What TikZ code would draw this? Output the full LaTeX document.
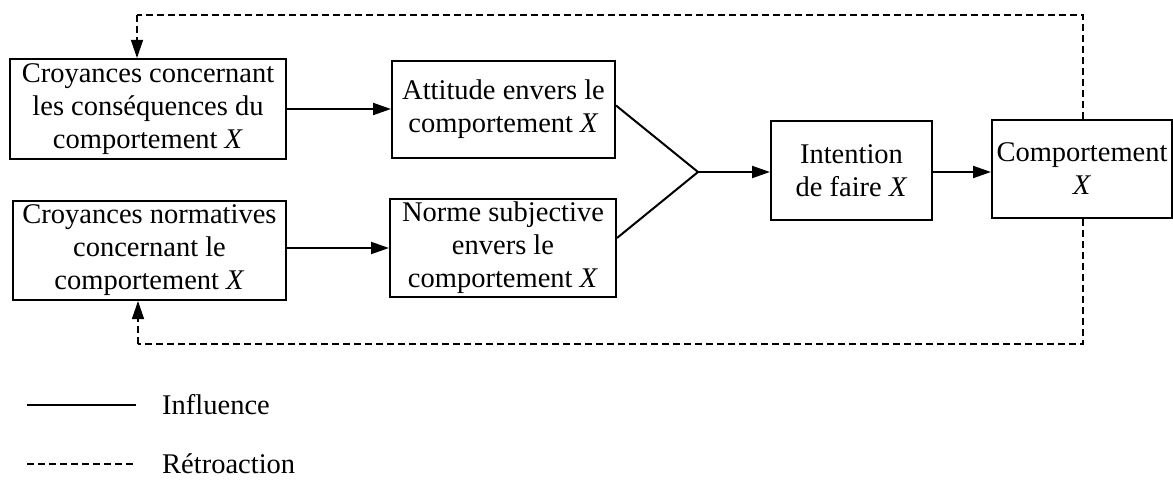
\documentclass[tikz,border=0pt]{standalone}
\usepackage{fontspec}
\setmainfont{Liberation Serif}
\usetikzlibrary{arrows.meta,calc}

\begin{document}
\begin{tikzpicture}[x=1pt,y=-1pt,
  box/.style={draw, line width=2pt, align=center, inner sep=0pt,
    font=\fontsize{28.5}{33}\selectfont},
  infl/.style={line width=2pt},
  fb/.style={line width=1.4pt, dash pattern=on 7pt off 4pt},
  tip/.style={-{Triangle[length=18pt,width=12pt]}},
  legtext/.style={anchor=west, inner sep=0pt, font=\fontsize{28.5}{33}\selectfont}
]
\useasboundingbox (0,0) rectangle (1173,487);

% belief boxes (left column)
\node[box, minimum width=276pt, minimum height=100pt] (cons) at (148,109)
  {Croyances concernant\\les conséquences du\\comportement \textit{X}};
\node[box, minimum width=273pt, minimum height=99pt] (norm) at (149.5,250.5)
  {Croyances normatives\\concernant le\\comportement \textit{X}};

% attitude and subjective norm
\node[box, minimum width=223pt, minimum height=97pt] (att) at (503.5,109.5)
  {Attitude envers le\\comportement \textit{X}};
\node[box, minimum width=226pt, minimum height=98pt] (sub) at (503,248)
  {Norme subjective\\envers le\\comportement \textit{X}};

% intention and behaviour
\node[box, minimum width=161pt, minimum height=99pt] (int) at (851.5,170.5)
  {Intention\\de faire \textit{X}};
\node[box, minimum width=180pt, minimum height=98pt] (beh) at (1082,169)
  {Comportement\\\textit{X}};

% junction of the two determinants of intention
\coordinate (m) at (698,172);

% influence links
\draw[infl, tip] (cons.east) -- (cons.east -| att.west);
\draw[infl, tip] (sub.west -| norm.east) -- (sub.west);
\draw[infl] ([yshift=4pt]att.east) -- (m);
\draw[infl] ([yshift=10pt]sub.east) -- (m);
\draw[infl, tip] (m) -- (m -| int.west);
\draw[infl, tip] (int.east |- 0,172) -- (beh.west |- 0,172);

% feedback loops
\coordinate (tr) at (1083,15);
\coordinate (tl) at (137,15);
\coordinate (br) at (1083,344);
\coordinate (bl) at (138,344);
\draw[fb] (beh.north -| tr) -- (tr) -- (tl);
\draw[fb, tip] (tl) -- (tl |- cons.north);
\draw[fb] (beh.south -| br) -- (br) -- (bl);
\draw[fb, tip] (bl) -- (bl |- norm.south);

% legend
\coordinate (l1a) at (27,405);
\coordinate (l1b) at (136,405);
\coordinate (l2a) at (27,464);
\coordinate (l2b) at (136,464);
\draw[line width=1.3pt] (l1a) -- (l1b);
\draw[line width=1.3pt, dash pattern=on 7pt off 4pt] (l2a) -- (l2b);
\node[legtext] (linf) at (162,405) {Influence};
\node[legtext] (lret) at (162,464) {Rétroaction};
\end{tikzpicture}
\end{document}
